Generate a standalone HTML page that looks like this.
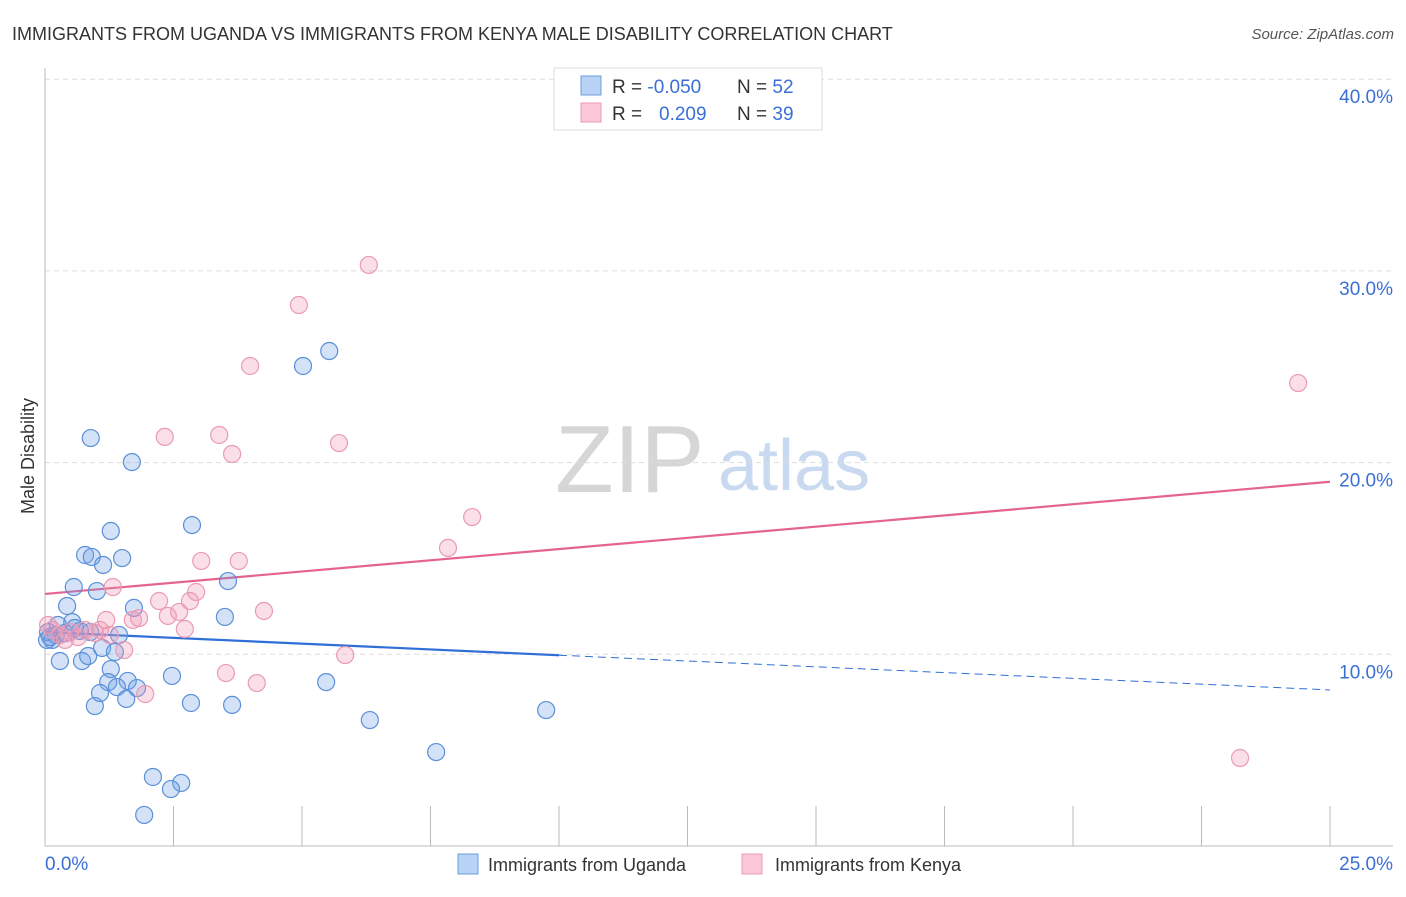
<!DOCTYPE html>
<html><head><meta charset="utf-8"><style>
body{margin:0;background:#fff;font-family:"Liberation Sans",sans-serif;}
svg text{font-family:"Liberation Sans",sans-serif;}
</style></head><body>
<svg id="chart" width="1406" height="892" xmlns="http://www.w3.org/2000/svg">
<text x="12" y="40" font-size="18" fill="#333">IMMIGRANTS FROM UGANDA VS IMMIGRANTS FROM KENYA MALE DISABILITY CORRELATION CHART</text>
<text x="1394" y="39" font-size="15" fill="#555" font-style="italic" text-anchor="end">Source: ZipAtlas.com</text>
<g>
<text x="555" y="492" font-size="96" font-family="Liberation Serif,serif" fill="#d6d6d6">ZIP</text>
<text x="718" y="490" font-size="72" fill="#c8d9f0">atlas</text>
</g>
<g id="grid"></g>
<g id="axes"></g>
<text transform="translate(34,456) rotate(-90)" font-size="18" fill="#333" text-anchor="middle">Male Disability</text>
<g id="trends"></g>
<g id="points"></g>
<g>
<rect x="554" y="68" width="268" height="62" fill="#fff" stroke="#ddd"/>
<rect x="581" y="76" width="20" height="19" fill="#b8d3f5" stroke="#6c9de0"/>
<rect x="581" y="103" width="20" height="19" fill="#fac8d8" stroke="#ec9ab4"/>
<text x="612" y="93" font-size="19" fill="#333">R = <tspan fill="#3b6fd6">-0.050</tspan></text>
<text x="737" y="93" font-size="19" fill="#333">N = <tspan fill="#3b6fd6">52</tspan></text>
<text x="612" y="120" font-size="19" fill="#333">R = <tspan fill="#3b6fd6" x="659">0.209</tspan></text>
<text x="737" y="120" font-size="19" fill="#333">N = <tspan fill="#3b6fd6">39</tspan></text>
</g>
<g>
<rect x="458" y="854" width="20" height="20" fill="#b8d3f5" stroke="#6c9de0"/>
<text x="488" y="871" font-size="18" fill="#333">Immigrants from Uganda</text>
<rect x="742" y="854" width="20" height="20" fill="#fac8d8" stroke="#ec9ab4"/>
<text x="775" y="871" font-size="18" fill="#333">Immigrants from Kenya</text>
</g>
</svg>
<script>
const yTicks=[10,20,30,40];
const yTickLabels=["10.0%","20.0%","30.0%","40.0%"];
const xTicks=[0,2.5,5,7.5,10,12.5,15,17.5,20,22.5,25];
const ugandaX=[0.89,1.69,5.02,5.53,1.28,2.86,0.78,0.91,1.50,1.13,0.56,1.01,3.56,0.43,1.73,3.50,0.53,0.25,0.06,0.14,0.21,0.68,1.44,1.11,1.36,0.29,0.72,0.84,1.28,2.47,1.23,1.61,1.79,1.40,1.07,5.47,0.97,1.58,2.84,3.64,6.32,9.75,7.61,2.10,2.65,2.45,1.93,0.10,0.04,0.39,0.58,0.88];
const ugandaY=[21.28,20.03,25.04,25.82,16.43,16.74,15.18,15.08,15.02,14.66,13.51,13.30,13.82,12.52,12.42,11.95,11.68,11.53,11.16,10.75,11.01,11.22,11.01,10.33,10.12,9.65,9.65,9.91,9.23,8.87,8.55,8.61,8.24,8.29,7.98,8.55,7.30,7.67,7.46,7.36,6.57,7.09,4.90,3.60,3.29,2.97,1.62,10.90,10.75,11.11,11.37,11.16];
const kenyaX=[6.30,4.94,3.99,2.33,3.39,3.64,5.72,8.31,7.84,3.04,3.77,1.32,2.94,2.22,2.82,4.26,2.61,2.39,1.83,1.71,1.19,2.72,1.54,1.95,3.52,4.12,5.84,24.38,23.25,0.06,0.14,0.29,0.49,0.78,0.97,0.64,0.39,1.26,1.07];
const kenyaY=[30.31,28.22,25.04,21.34,21.44,20.45,21.02,17.16,15.55,14.87,14.87,13.51,13.25,12.78,12.78,12.26,12.21,12.00,11.89,11.79,11.79,11.32,10.22,7.93,9.02,8.50,9.96,24.15,4.59,11.53,11.27,11.01,11.16,11.27,11.11,10.90,10.75,11.01,11.27];
const ugandaTrend=[11.16,8.14];
const ugandaSolidEnd=10;
const kenyaTrend=[13.15,19.0];
const NS="http://www.w3.org/2000/svg";
const X=v=>45+v*(1285/25);
const Y=v=>846-v*19.17;
function mk(tag,attrs,parent){const e=document.createElementNS(NS,tag);for(const k in attrs)e.setAttribute(k,attrs[k]);parent.appendChild(e);return e;}
const grid=document.getElementById('grid'),axes=document.getElementById('axes'),trends=document.getElementById('trends'),pts=document.getElementById('points');
yTicks.forEach((t,i)=>{
 const l=mk('line',{x1:45,x2:1393,y1:Y(t),y2:Y(t),stroke:'#ddd','stroke-dasharray':'5,4'},grid);
 
 
 const tx=mk('text',{x:1393,y:Y(t)+24,'font-size':19,fill:'#3b6fd6','text-anchor':'end'},grid);
 tx.textContent=yTickLabels[i];
 
 
});
const ax=mk('line',{x1:45,x2:1393,y1:846,y2:846,stroke:'#bbb'},axes);


const ay=mk('line',{x1:45,x2:45,y1:68,y2:846,stroke:'#bbb'},axes);


xTicks.forEach(t=>{
 const l=mk('line',{x1:X(t),x2:X(t),y1:806,y2:846,stroke:'#bbb'},axes);
 
 
});
const xl0=mk('text',{x:45,y:870,'font-size':19,fill:'#3b6fd6'},axes);xl0.textContent='0.0%';


const xl1=mk('text',{x:1393,y:870,'font-size':19,fill:'#3b6fd6','text-anchor':'end'},axes);xl1.textContent='25.0%';


function drawPts(xs,ys,fill,stroke,name){xs.forEach((x,i)=>{
 const c=mk('circle',{cx:X(x),cy:Y(ys[i]),r:8.5,fill:fill,stroke:stroke,'stroke-width':1.2},pts);
 
 
});}
drawPts(ugandaX,ugandaY,'rgba(110,160,230,0.3)','#5b8fd9','uganda-point');
drawPts(kenyaX,kenyaY,'rgba(240,150,180,0.3)','#eb9ab4','kenya-point');
const uAt=v=>ugandaTrend[0]+(ugandaTrend[1]-ugandaTrend[0])*v/25;
const u1=mk('line',{x1:X(0),y1:Y(uAt(0)),x2:X(ugandaSolidEnd),y2:Y(uAt(ugandaSolidEnd)),stroke:'#2f6fd6','stroke-width':2.2},trends);


const u2=mk('line',{x1:X(ugandaSolidEnd),y1:Y(uAt(ugandaSolidEnd)),x2:X(25),y2:Y(uAt(25)),stroke:'#2f6fd6','stroke-width':1,'stroke-dasharray':'8,5'},trends);


const k1=mk('line',{x1:X(0),y1:Y(kenyaTrend[0]),x2:X(25),y2:Y(kenyaTrend[1]),stroke:'#e4648e','stroke-width':2.2},trends);


</script>
</body></html>
